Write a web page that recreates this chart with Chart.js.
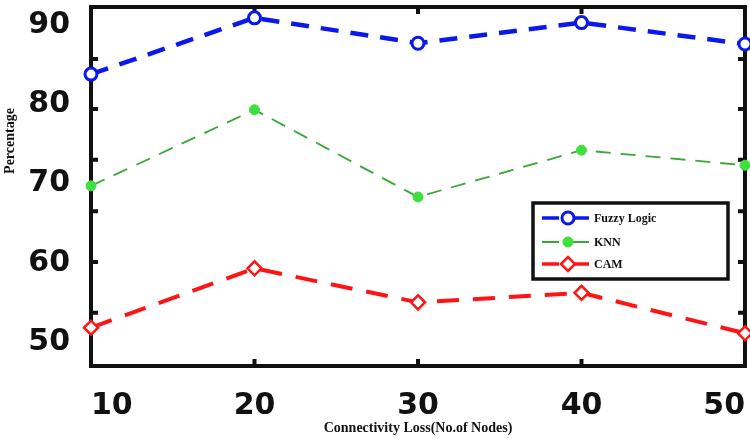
<!DOCTYPE html>
<html>
<head>
<meta charset="utf-8">
<script src="https://cdn.jsdelivr.net/npm/chart.js@4/dist/chart.umd.min.js"></script>
<style>
html,body{margin:0;padding:0;background:#fff;}
#wrap{width:750px;height:439px;position:relative;}
</style>
</head>
<body>
<div id="wrap"><canvas id="c" width="750" height="439"></canvas></div>
<script>
const categories = ['10', '20', '30', '40', '50'];
const fuzzyLogic = [83.8, 90.9, 87.7, 90.3, 87.6];
const knn = [69.7, 79.3, 68.3, 74.2, 72.3];
const cam = [51.8, 59.3, 55.0, 56.2, 51.1];
const yTickValues = [50, 60, 70, 80, 90];
const yInnerTicks = [53.7, 60.1, 66.5, 73.0, 79.4, 85.7];
const xTitle = 'Connectivity Loss(No.of Nodes)';
const yTitle = 'Percentage';

const frameAndTicks = {
  id: 'frameAndTicks',
  beforeDatasetsDraw(chart) {
    const {ctx, chartArea: a, scales} = chart;
    ctx.save();
    ctx.strokeStyle = '#111';
    ctx.lineWidth = 4;
    ctx.strokeRect(a.left, a.top, a.right - a.left, a.bottom - a.top);
    ctx.lineWidth = 4;
    ctx.beginPath();
    yInnerTicks.forEach(v => {
      const y = scales.y.getPixelForValue(v);
      ctx.moveTo(a.left, y); ctx.lineTo(a.left + 7, y);
      ctx.moveTo(a.right, y); ctx.lineTo(a.right - 7, y);
    });
    categories.forEach((c, i) => {
      if (i === 0 || i === categories.length - 1) return;
      const x = scales.x.getPixelForValue(i);
      ctx.moveTo(x, a.bottom); ctx.lineTo(x, a.bottom - 7);
      ctx.moveTo(x, a.top); ctx.lineTo(x, a.top + 7);
    });
    ctx.stroke();
    ctx.translate(10, a.top + 134);
    ctx.rotate(-Math.PI / 2);
    ctx.fillStyle = '#111';
    ctx.font = 'bold 14px "Liberation Serif", "Times New Roman", serif';
    ctx.textAlign = 'center';
    ctx.textBaseline = 'middle';
    ctx.fillText(yTitle, 0, 0);
    ctx.restore();
  },
  afterDatasetsDraw(chart) {
    const {ctx, chartArea: a} = chart;
    const bw = 195, bh = 76;
    const bx = a.right - 17 - bw, by = a.top + 196;
    ctx.save();
    ctx.fillStyle = '#fff';
    ctx.fillRect(bx, by, bw, bh);
    ctx.strokeStyle = '#111';
    ctx.lineWidth = 3.5;
    ctx.strokeRect(bx, by, bw, bh);
    const rows = [15, 39, 61];
    chart.data.datasets.forEach((ds, i) => {
      const y = by + rows[i];
      const x0 = bx + 9, xm = bx + 35, x1 = bx + 56;
      ctx.strokeStyle = ds.borderColor;
      ctx.lineWidth = Math.min(ds.borderWidth, 3.5);
      ctx.setLineDash([]);
      ctx.beginPath();
      ctx.moveTo(x0, y); ctx.lineTo(x0 + 17, y);
      ctx.moveTo(xm, y); ctx.lineTo(x1, y);
      ctx.stroke();
      ctx.fillStyle = ds.pointBackgroundColor;
      ctx.strokeStyle = ds.pointBorderColor;
      ctx.lineWidth = ds.pointBorderWidth;
      Chart.helpers.drawPoint(ctx, {pointStyle: ds.pointStyle, radius: ds.pointRadius, rotation: 0, borderWidth: ds.pointBorderWidth}, xm, y);
      ctx.fillStyle = '#111';
      ctx.font = 'bold 12px "Liberation Serif", "Times New Roman", serif';
      ctx.textAlign = 'left';
      ctx.textBaseline = 'middle';
      ctx.fillText(ds.label, bx + 61, y + 1);
    });
    ctx.restore();
  }
};

new Chart(document.getElementById('c'), {
  type: 'line',
  data: {
    labels: categories,
    datasets: [
      {
        label: 'Fuzzy Logic', data: fuzzyLogic,
        borderColor: '#0a18ee', borderWidth: 4.5, borderDash: [18, 12],
        pointStyle: 'circle', pointRadius: 6, pointBorderWidth: 3,
        pointBackgroundColor: '#fff', pointBorderColor: '#0a18ee',
        tension: 0, fill: false, clip: false
      },
      {
        label: 'KNN', data: knn,
        borderColor: '#38a838', borderWidth: 1.8, borderDash: [15, 10],
        pointStyle: 'circle', pointRadius: 5, pointBorderWidth: 1,
        pointBackgroundColor: '#3ee03e', pointBorderColor: '#3ee03e',
        tension: 0, fill: false, clip: false
      },
      {
        label: 'CAM', data: cam,
        borderColor: '#ff1414', borderWidth: 4, borderDash: [22, 14],
        pointStyle: 'rectRot', pointRadius: 7, pointBorderWidth: 2.5,
        pointBackgroundColor: '#fff', pointBorderColor: '#ff1414',
        tension: 0, fill: false, clip: false
      }
    ]
  },
  options: {
    responsive: false,
    animation: false,
    devicePixelRatio: 1,
    layout: {padding: {top: 7, right: 5, left: 0, bottom: 0}, autoPadding: false},
    plugins: {legend: {display: false}, tooltip: {enabled: false}},
    scales: {
      x: {
        type: 'category', offset: false,
        grid: {display: false, drawTicks: false},
        border: {display: false},
        ticks: {
          padding: 22, color: '#111', maxRotation: 0, autoSkip: false, align: 'inner',
          font: {family: '"DejaVu Sans", Verdana, sans-serif', size: 30, weight: 'bold'}
        },
        title: {
          display: true, text: xTitle, color: '#111',
          font: {family: '"Liberation Serif", "Times New Roman", serif', size: 14, weight: 'bold'},
          padding: {top: 0, bottom: 2}
        },
        afterFit(s) { s.height = 73; s.paddingLeft = 0; s.paddingRight = 0; }
      },
      y: {
        type: 'linear', min: 46.97, max: 92.27,
        grid: {display: false, drawTicks: false},
        border: {display: false},
        afterBuildTicks(s) { s.ticks = yTickValues.map(v => ({value: v})); },
        ticks: {
          padding: 21, color: '#111',
          font: {family: '"DejaVu Sans", Verdana, sans-serif', size: 30, weight: 'bold'}
        },
        title: {display: false},
        afterFit(s) { s.width = 91; s.paddingTop = 0; s.paddingBottom = 0; }
      }
    }
  },
  plugins: [frameAndTicks]
});
</script>
</body>
</html>
